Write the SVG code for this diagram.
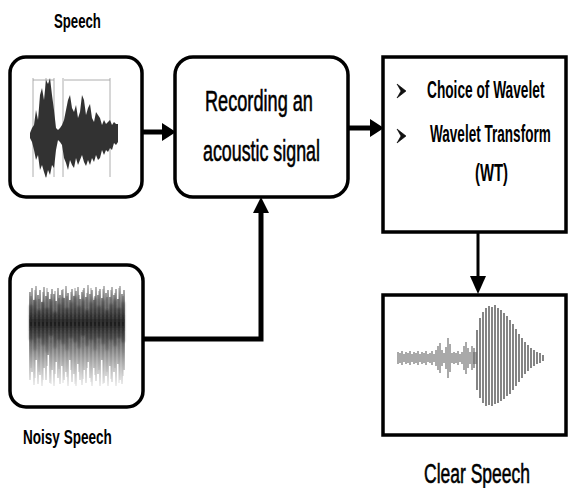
<svg xmlns="http://www.w3.org/2000/svg" width="569" height="488" viewBox="0 0 569 488">
<defs>
<style>
.box{fill:#fff;stroke:#000;stroke-width:3.5}
.conn{fill:none;stroke:#000}
.head{fill:#000}
.lbl{font-family:"Liberation Sans",Arial,sans-serif;fill:#000}
.b{font-weight:bold}
.reg{stroke:#000;stroke-width:0.6}
.bul{fill:#111;stroke:#000;stroke-width:0.6;stroke-linejoin:round}
</style>
<linearGradient id="ng" gradientUnits="userSpaceOnUse" x1="0" y1="284" x2="0" y2="388">
<stop offset="0" stop-color="#aaa"/>
<stop offset="0.15" stop-color="#555"/>
<stop offset="0.35" stop-color="#222"/>
<stop offset="0.55" stop-color="#444"/>
<stop offset="0.75" stop-color="#999"/>
<stop offset="1" stop-color="#ececec"/>
</linearGradient>
<linearGradient id="dg" gradientUnits="userSpaceOnUse" x1="0" y1="296" x2="0" y2="352">
<stop offset="0" stop-color="#666"/>
<stop offset="0.5" stop-color="#000"/>
<stop offset="1" stop-color="#777"/>
</linearGradient>
<filter id="blur" x="-10%" y="-10%" width="120%" height="120%"><feGaussianBlur stdDeviation="0.7"/></filter>
<filter id="blurMid" x="-10%" y="-20%" width="120%" height="140%"><feGaussianBlur stdDeviation="1"/></filter>
<filter id="blur2" x="-10%" y="-10%" width="120%" height="120%"><feGaussianBlur stdDeviation="0.4"/></filter>
<filter id="blur3" x="-10%" y="-10%" width="120%" height="120%"><feGaussianBlur stdDeviation="0.55"/></filter>
</defs>
<rect width="569" height="488" fill="#fff"/>

<g id="connectors">
<path class="conn" stroke-width="5" d="M142,132 H164"/>
<polygon class="head" points="176,132 162,123 162,141"/>
<path class="conn" stroke-width="5" d="M348,128 H372"/>
<polygon class="head" points="384,128 370,119 370,137"/>
<path class="conn" stroke-width="3" d="M478,232 V280"/>
<polygon class="head" points="478,294 470,276 486,276"/>
<path class="conn" stroke-width="5" d="M143,339 H261 V211"/>
<polygon class="head" points="261,197 253,213 269,213"/>
</g>

<g id="speech">
<rect class="box" x="10" y="57" width="132" height="140" rx="16"/>
<g stroke="#999" stroke-width="0.8" fill="none">
<path d="M33,78 V177 M46,78 V177 M54,78 V177 M63,78 V177 M110,78 V177"/>
<path d="M33,80 H54 M64,80 H110"/>
</g>
<path filter="url(#blur2)" fill="#333" d="M30,133 L32,128 34,125 36,110 38,120 40,95 42,88 44,100 46,80 48,84 50,78 52,95 54,110 56,128 58,130 60,128 62,125 64,120 66,110 68,100 70,95 72,108 74,112 76,105 78,118 80,112 82,95 84,100 86,115 88,108 90,104 92,118 94,122 96,112 98,115 100,118 102,125 104,120 106,124 108,122 110,120 112,125 114,122 116,124 118,124 118,142 116,145 114,143 112,150 110,148 108,152 106,150 104,155 102,150 100,158 98,160 96,155 94,162 92,158 90,165 88,160 86,166 84,162 82,155 80,160 78,165 76,158 74,168 72,165 70,160 68,170 66,163 64,158 62,145 60,142 58,140 56,150 54,168 52,165 50,175 48,170 46,178 44,172 42,165 40,170 38,155 36,160 34,150 32,142 30,138 Z"/>
<text class="lbl b" transform="translate(54,28) scale(0.66,1)" font-size="20">Speech</text>
</g>

<g id="recording">
<rect class="box" x="175" y="57" width="173" height="140" rx="18"/>
<text class="lbl reg" transform="translate(205,111) scale(0.626,1)" font-size="29">Recording an</text>
<text class="lbl reg" transform="translate(203,161) scale(0.615,1)" font-size="29">acoustic signal</text>
</g>

<g id="wavelet">
<rect class="box" x="383" y="57" width="183" height="175"/>
<polygon class="bul" points="397,84 406,91 397,98 401,91"/>
<polygon class="bul" points="397,129 406,136 397,143 401,136"/>
<text class="lbl b" transform="translate(427,98) scale(0.571,1)" font-size="24">Choice of Wavelet</text>
<text class="lbl b" transform="translate(430,142) scale(0.565,1)" font-size="24">Wavelet Transform</text>
<text class="lbl b" transform="translate(475,181) scale(0.62,1)" font-size="24">(WT)</text>
</g>

<g id="noisy">
<rect class="box" x="10" y="265" width="133" height="142" rx="16"/>
<g filter="url(#blur)">
<path stroke="url(#ng)" stroke-width="1.4" fill="none" d="M30,292V380M32,288V372M34,300V385M36,286V360M38,295V384M40,290V375M42,302V386M44,287V368M46,296V380M48,292V355M50,299V383M52,289V370M54,294V386M56,301V362M58,288V378M60,295V384M62,290V366M64,298V380M66,286V372M68,293V386M70,300V360M72,289V382M74,296V374M76,291V386M78,287V364M80,299V380M82,292V385M84,288V370M86,297V383M88,285V362M90,294V378M92,290V386M94,300V368M96,287V381M98,295V374M100,289V386M102,298V360M104,286V383M106,293V376M108,290V386M110,297V366M112,287V382M114,295V372M116,289V386M118,299V364M120,286V380M122,294V384M124,290V370"/>
<path stroke="url(#ng)" stroke-width="0.9" fill="none" d="M31,296V368M35,290V378M39,299V372M43,292V380M47,288V366M51,294V384M55,291V374M59,298V369M63,289V383M67,296V377M71,292V370M75,288V384M79,295V372M83,290V379M87,293V368M91,288V382M95,296V375M99,291V370M103,289V384M107,297V372M111,290V379M115,293V368M119,288V383M123,296V376"/>
</g>
<path filter="url(#blurMid)" stroke="url(#dg)" stroke-width="2.6" opacity="0.85" fill="none" d="M31,305V340M35,300V350M39,310V338M43,302V345M47,308V352M51,300V336M55,312V348M59,304V340M63,298V344M67,308V350M71,302V338M75,296V342M79,306V348M83,300V336M87,310V346M91,302V340M95,298V350M99,306V338M103,300V344M107,310V350M111,304V340M115,300V346M119,308V338M123,302V342"/>
<text class="lbl b" transform="translate(23,444) scale(0.646,1)" font-size="21">Noisy Speech</text>
</g>

<g id="clear">
<rect class="box" x="383" y="295" width="183" height="140"/>
<path filter="url(#blur2)" stroke="#555" stroke-width="1" fill="none" d="M398,352V364M400,353V363M402,351V365M404,354V362M406,352V364M408,353V363M410,351V365M412,354V362M414,352V364M416,353V363M418,351V365M420,354V362M422,352V364M424,353V363M426,351V365M428,354V362M430,353V363M432,351V365M434,354V362M436,350V366M438,346V370M440,343V373M442,350V366M444,353V363M446,347V369M448,338V378M450,344V372M452,353V363M454,352V364M456,353V363M458,351V365M460,354V362M462,352V364M464,346V370M466,342V374M468,348V368M470,352V364M472,346V370M474,352V364"/>
<path filter="url(#blur3)" stroke="#707070" stroke-width="1.7" fill="none" d="M477,330V390M480,318V398M483,312V403M486,308V406M489,306V405M492,307V406M495,305V404M498,308V403M501,310V401M504,313V399M507,316V396M510,320V394M513,324V390M516,329V386M519,334V382M522,338V378M525,342V374M528,345V371M531,348V368M534,350V366M537,352V364M540,353V363M543,355V361"/>
<path stroke="#666" stroke-width="1.2" fill="none" d="M476,352V364M474,348V368"/>
<text class="lbl reg" transform="translate(424,483) scale(0.625,1)" font-size="28">Clear Speech</text>
</g>
</svg>
